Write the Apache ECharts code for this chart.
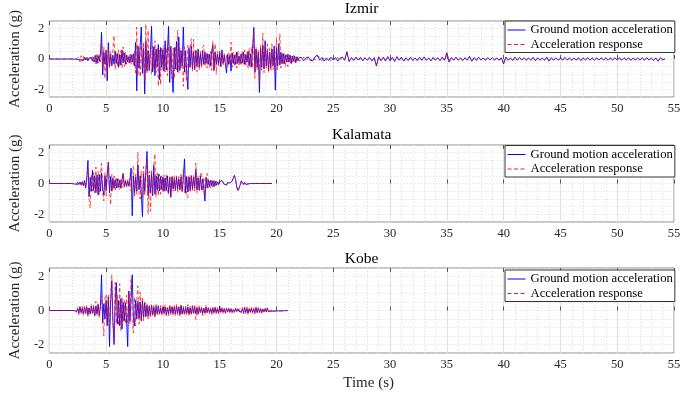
<!DOCTYPE html>
<html>
<head>
<meta charset="utf-8">
<script src="https://cdn.jsdelivr.net/npm/echarts@6/dist/echarts.min.js"></script>
<style>
  html, body { margin: 0; padding: 0; background: #fff; }
  #chart { width: 685px; height: 393px; }
</style>
</head>
<body>
<div id="chart"></div>
<script>
// records start at 2.0 s, strong part sampled every 0.1 s (flat zero before that)
let recordStart = 2.0;
let dt = 0.1;
let tailStart = 22.2;
let tailDt = 0.2;

let titles = ['Izmir', 'Kalamata', 'Kobe'];
let xTicks = [0, 5, 10, 15, 20, 25, 30, 35, 40, 45, 50, 55];
let yTickLabels = [-2, 0, 2];
let legendNames = ['Ground motion acceleration', 'Acceleration response'];

// Izmir, 2.0 .. 22.0 s
let izmirGround = [
    0, 0.01, -0.01, 0.02, -0.02, 0.03, -0.04, 0.06, -0.05, 0.08,
    -0.1, 0.12, -0.06, 0.09, -0.12, 0.05, -0.08, 0.1, -0.14, 0.11,
    -0.18, 0.25, -0.3, 0.22, -0.15, 0.3, 1.75, -1.05, 0.45, -0.35,
    0.55, -1.43, 1.08, -0.5, 0.3, -0.45, 0.25, -0.35, 0.5, -0.3,
    0.35, -0.55, 0.3, -0.4, 0.6, -0.25, 0.4, -0.35, 0.25, -0.2,
    0.15, -0.25, 0.3, -0.2, 0.35, -0.45, 1.1, -2.1, 0.85, -0.6,
    0.9, 2.1, -0.95, 0.7, -2.3, 1.15, -0.8, 0.55, -0.75, 0.5,
    2.15, -0.85, 0.8, -1.1, 0.65, -0.5, 0.95, -1.35, 0.75, -0.55,
    0.6, -0.8, 1.2, -0.7, 0.55, 2.15, -1.55, 0.85, -0.9, -2.2,
    0.75, -0.65, 1.15, -0.85, 1.45, -0.75, 0.55, -0.45, 2.1, -0.85,
    0.55, -0.95, -2.0, 0.75, -0.55, 0.85, -0.65, 0.45, -0.7, 0.55,
    -0.45, 0.65, -0.55, 0.35, -0.45, 0.55, -0.35, 0.45, -0.3, 0.35,
    -0.35, 0.3, -0.45, 0.55, 0.9, -0.75, 0.45, -0.35, 0.3, -0.3,
    0.4, -0.5, 0.6, -0.3, 0.25, -0.3, -0.93, 0.3, -0.35, 0.25,
    -0.8, 0.4, -0.3, 0.25, -0.35, 0.45, -0.3, 0.2, -0.3, 0.35,
    -0.25, 0.45, -0.35, 0.3, -0.2, 0.5, -0.45, 0.35, -0.5, 0.7,
    2.05, -0.85, 0.65, -0.55, 0.45, -2.2, 0.75, -0.55, 0.9, -0.65,
    1.2, -0.45, 0.55, -0.75, 0.45, -0.55, 0.65, -0.45, 0.85, -2.05,
    0.75, -0.45, 1.0, -0.4, 0.45, -0.3, 0.35, -0.3, 0.25, -0.2,
    0.3, -0.2, 0.25, -0.3, 0.2, -0.15, 0.2, -0.25, 0.15, -0.12,
    0.1
];
let izmirResponse = [
    0, 0, 0.01, -0.02, 0.03, -0.05, 0.12, -0.2, 0.22, -0.15,
    0.18, -0.12, 0.08, -0.15, 0.1, -0.06, 0.12, -0.1, 0.15, -0.2,
    0.22, -0.35, 0.3, -0.25, 0.35, -0.2, 1.0, -0.6, 0.8, -1.3,
    0.6, -0.9, 0.7, -0.55, 0.5, -0.4, 0.65, 1.55, -0.7, 0.45,
    -0.5, 0.6, -0.45, 0.55, -0.6, 0.8, -0.5, 0.45, -0.35, 0.3,
    -0.25, 0.3, -0.35, 0.25, -0.4, 0.5, -0.9, 2.1, -1.1, 0.75,
    -1.2, 0.9, -0.7, 1.1, -1.5, 2.3, -0.9, 1.9, -0.8, 0.6,
    -1.0, 0.85, -0.7, 1.2, -0.9, 0.7, -1.8, 0.6, -1.7, 0.8,
    -0.7, 0.9, -0.85, 0.75, -1.1, 1.3, -0.8, 0.6, -1.3, 0.7,
    -1.3, 0.85, -0.7, 1.9, -0.9, 0.75, -0.6, 0.55, -1.8, 0.8,
    -0.7, -1.5, 0.9, -0.6, 0.7, 1.35, -0.8, 1.3, -0.65, 0.6,
    -0.85, 0.55, -0.7, 0.5, -0.6, 0.75, 0.9, -0.5, 0.45, -0.6,
    0.4, -0.55, 0.5, -0.75, 1.2, -0.8, 1.0, -1.0, 0.5, -0.45,
    0.6, -0.5, 0.45, -0.4, 0.35, -0.45, 0.3, -0.55, 0.4, -0.35,
    1.1, -0.55, 0.45, -0.5, 0.4, -0.6, 0.55, -0.4, 0.35, -0.45,
    0.5, -0.35, 0.6, -0.5, 0.45, -0.6, 0.7, -0.55, 0.8, -0.6,
    2.1, -1.27, 0.8, -0.7, 0.6, -1.6, 0.9, -0.75, 1.7, -0.9,
    0.8, -0.6, 1.0, -0.9, 0.7, -0.8, 1.0, -0.7, 0.6, -0.8,
    1.4, -0.7, 0.5, 1.67, -0.6, 0.45, -0.4, 0.35, -0.5, 0.3,
    -0.5, 0.3, -0.25, 0.2, -0.3, 0.25, -0.2, 0.15, -0.2, 0.15,
    -0.12
];
// Izmir tail, 22.2 .. 54.2 s every 0.2 s
let izmirTailGround = [
    0.1, -0.12, 0.06, 0.14, -0.08, -0.12, 0.15, 0.26, -0.08, 0.1,
    -0.14, 0.07, -0.1, 0.12, -0.07, 0.09, -0.14, 0.06, 0.12, -0.08,
    0.48, -0.17, 0.08, -0.1, 0.12, -0.07, 0.1, -0.12, 0.07, -0.08,
    0.1, -0.12, 0.08, -0.46, 0.14, -0.1, 0.12, -0.14, 0.16, -0.12,
    0.1, -0.16, 0.14, -0.08, 0.12, -0.14, 0.07, -0.1, 0.12, -0.08,
    0.07, -0.1, 0.12, -0.07, 0.14, -0.08, 0.06, -0.12, 0.1, -0.07,
    0.08, -0.1, 0.12, -0.08, 0.41, -0.2, 0.1, -0.08, 0.12, -0.07,
    0.06, -0.1, 0.08, -0.07, 0.18, -0.15, 0.1, -0.08, 0.12, -0.06,
    0.07, -0.08, 0.1, -0.07, 0.08, -0.06, 0.07, -0.09, 0.08, -0.33,
    0.12, -0.08, 0.07, -0.1, 0.12, -0.08, 0.1, -0.06, 0.08, -0.07,
    0.06, -0.08, 0.1, -0.12, 0.08, -0.07, 0.06, -0.08, 0.12, -0.14,
    0.08, -0.06, 0.07, -0.08, 0.06, -0.07, 0.1, -0.06, 0.07, -0.08,
    0.06, -0.07, 0.08, -0.1, 0.07, -0.06, 0.08, -0.07, 0.06, -0.08,
    0.07, -0.06, 0.08, -0.07, 0.06, -0.08, 0.07, -0.06, 0.08, -0.07,
    0.06, -0.07, 0.08, -0.06, 0.07, -0.08, 0.06, -0.07, 0.08, -0.06,
    0.07, -0.06, 0.08, -0.07, 0.06, -0.1, 0.07, -0.15, 0.08, -0.05,
    0
];
let izmirTailResponse = [
    -0.12, 0.14, -0.1, 0.08, -0.14, 0.12, -0.07, 0.2, 0.12, -0.1,
    0.12, -0.1, 0.08, -0.12, 0.1, -0.07, 0.12, -0.1, 0.14, -0.07,
    0.35, -0.14, 0.12, -0.08, 0.1, -0.12, 0.08, -0.1, 0.12, -0.07,
    0.08, -0.14, 0.12, -0.4, 0.16, -0.12, 0.14, -0.1, 0.12, -0.14,
    0.12, -0.12, 0.16, -0.1, 0.08, -0.12, 0.1, -0.08, 0.07, -0.1,
    0.1, -0.07, 0.08, -0.1, 0.12, -0.07, 0.08, -0.1, 0.07, -0.08,
    0.07, -0.08, 0.1, -0.12, 0.35, -0.16, 0.12, -0.07, 0.1, -0.08,
    0.08, -0.07, 0.1, -0.12, 0.16, -0.13, 0.08, -0.1, 0.07, -0.08,
    0.06, -0.07, 0.08, -0.06, 0.07, -0.08, 0.06, -0.07, 0.1, -0.28,
    0.1, -0.07, 0.08, -0.08, 0.1, -0.07, 0.08, -0.07, 0.06, -0.08,
    0.07, -0.06, 0.08, -0.1, 0.07, -0.08, 0.07, -0.06, 0.1, -0.12,
    0.07, -0.08, 0.06, -0.07, 0.08, -0.06, 0.08, -0.07, 0.06, -0.07,
    0.07, -0.06, 0.07, -0.08, 0.06, -0.07, 0.07, -0.06, 0.08, -0.07,
    0.06, -0.07, 0.07, -0.06, 0.08, -0.07, 0.06, -0.07, 0.07, -0.06,
    0.07, -0.06, 0.07, -0.07, 0.06, -0.07, 0.07, -0.06, 0.07, -0.07,
    0.06, -0.07, 0.07, -0.06, 0.07, -0.08, 0.06, -0.12, 0.07, -0.04,
    0
];

// Kalamata, 2.0 .. 17.7 s, flat to the end of record
let kalamataEnd = 19.6;
let kalamataGround = [
    0, 0.02, -0.03, 0.04, -0.05, 0.08, -0.06, 0.1, -0.08, 0.12,
    -0.15, 0.2, -0.3, 0.35, 1.5, -0.86, 0.4, -0.5, 0.86, -0.45,
    0.5, -0.6, 0.55, -0.75, 0.6, -0.5, 0.7, -0.4, -0.75, 0.5,
    -0.45, 0.6, 1.4, -0.6, 0.45, -0.5, 0.35, -0.3, 0.25, -0.3,
    0.3, -0.25, 0.2, -0.3, 0.25, 0.65, -0.2, 0.15, -0.2, 0.15,
    -0.15, 0.2, 1.0, -2.1, 0.5, -0.6, 0.4, -0.5, 1.2, -0.4,
    0.5, -0.7, -2.15, 0.6, -0.5, 0.7, 2.08, -0.8, 0.55, -0.6,
    0.6, -0.8, 1.18, -0.7, 0.5, -0.45, 0.6, -0.5, 0.45, -0.4,
    0.4, -0.5, 0.35, -0.45, 0.5, -0.6, 0.4, -0.9, 0.45, -0.35,
    0.3, -0.45, 0.4, -0.35, 0.3, -0.4, 0.45, -0.5, 0.35, 1.6,
    -0.6, 0.45, -0.55, 0.4, -0.45, 0.5, -0.35, 0.4, -0.3, 0.9,
    -0.4, 0.35, -0.45, 0.5, -0.4, 0.3, -0.35, -1.14, 0.4, -0.3,
    0.25, -0.2, 0.2, -0.15, 0.18, -0.2, 0.15, -0.12, 0.1, -0.08,
    0.1, 0.15, 0.2, 0.12, -0.05, -0.15, -0.1, 0.05, 0.08, 0.03,
    -0.05, 0.15, 0.35, 0.5, 0.25, -0.2, -0.45, -0.3, -0.1, 0.15,
    0.1, -0.05, 0.08, -0.06, 0.04, -0.03, 0.02, 0
];
let kalamataResponse = [
    0, 0.01, -0.02, 0.05, -0.04, 0.06, -0.1, 0.08, -0.12, 0.1,
    -0.2, 0.15, -0.3, 0.45, 0.9, -1.0, -1.6, 0.6, -0.5, 0.7,
    -0.6, 1.07, -0.5, 0.8, -0.7, 0.6, 1.3, -0.6, -1.14, 0.7,
    -0.8, 0.5, 1.35, -0.5, -1.4, 0.6, -0.45, 0.5, -0.4, 0.35,
    -0.35, 0.3, -0.4, 0.35, -0.3, 0.6, -0.25, 0.3, -0.2, 0.25,
    -0.2, 0.3, -0.5, 0.8, 1.1, -0.9, 0.6, -0.7, 2.05, -0.8,
    -1.0, 0.8, -0.9, 1.1, -0.8, 0.9, 1.5, -2.0, 0.8, -1.8,
    0.9, -0.7, 1.2, 1.94, -0.9, 0.7, -0.8, 0.6, -0.7, 0.5,
    -0.6, 0.55, -0.5, 0.6, -0.45, -0.75, 0.5, -0.6, 0.45, -0.5,
    0.55, -0.45, 0.5, -0.6, 0.45, -0.5, 0.6, -0.55, 0.9, -0.6,
    0.5, -0.7, -0.95, 0.55, -0.5, 0.6, -0.45, 0.55, -0.5, 1.33,
    -0.6, 0.5, -0.45, 0.6, 0.75, -0.5, 0.4, -0.8, 0.45, 0.65,
    -0.3, 0.25, -0.3, 0.2, -0.25, 0.2, -0.15, 0.18, -0.12, 0.1,
    0.08, 0.18, 0.22, 0.1, -0.08, -0.18, -0.12, 0.06, 0.1, 0.02,
    -0.08, 0.2, 0.4, 0.55, 0.2, -0.25, -0.5, -0.35, -0.12, 0.18,
    0.12, -0.08, 0.1, -0.05, 0.05, -0.03, 0.02, 0
];

// Kobe, 2.0 .. 21.0 s
let kobeGround = [
    0, 0.01, -0.01, 0.03, -0.05, 0.1, -0.15, 0.2, -0.12, 0.15,
    -0.2, 0.18, -0.15, 0.2, -0.25, 0.15, -0.2, 0.25, -0.15, 0.2,
    -0.3, 0.25, -0.2, 0.35, -0.3, 0.25, 2.1, -0.73, 0.4, -0.5,
    0.6, -0.9, 0.8, -2.12, 0.5, 1.74, -0.6, -2.0, 0.5, 1.64,
    -0.8, 0.6, -0.9, 0.7, -1.1, 0.5, -0.6, 0.45, -0.5, -2.12,
    1.15, -0.6, 0.7, 2.1, -0.5, -0.9, 0.6, -0.5, 0.55, -0.45,
    0.5, -0.6, 0.55, -0.4, 0.45, -0.35, 0.3, -0.35, 0.25, -0.3,
    0.3, -0.25, 0.2, -0.3, 0.25, -0.2, 0.25, -0.2, 0.15, -0.2,
    0.2, -0.15, 0.2, -0.25, 0.15, -0.2, 0.25, -0.15, 0.2, -0.18,
    0.22, -0.2, 0.25, -0.15, 0.2, -0.25, 0.3, -0.2, 0.15, -0.2,
    0.18, -0.15, 0.2, -0.22, 0.15, -0.2, 0.25, -0.15, 0.2, -0.18,
    0.15, -0.2, 0.18, -0.12, 0.15, -0.18, 0.12, -0.15, 0.2, -0.12,
    0.15, -0.12, 0.1, -0.15, 0.12, -0.1, 0.15, -0.12, 0.1, -0.15,
    0.25, -0.1, 0.12, -0.1, 0.08, -0.12, 0.1, -0.08, 0.12, -0.1,
    0.08, -0.1, 0.06, -0.08, 0.1, -0.06, 0.08, -0.05, 0.06, -0.08,
    0.1, -0.12, 0.15, -0.1, 0.12, -0.15, 0.1, -0.08, 0.12, -0.1,
    0.08, -0.12, 0.15, -0.1, 0.12, -0.08, 0.1, -0.12, 0.08, -0.06,
    0.1, -0.08, 0.12, -0.06, 0.05, -0.04, 0.06, -0.03, 0.04, -0.03,
    0.03, -0.02, 0.03, -0.02, 0.02, -0.02, 0.01, -0.01, 0.01, -0.01,
    0
];
let kobeResponse = [
    0, 0.02, -0.03, 0.08, -0.1, 0.2, -0.25, 0.3, -0.2, 0.25,
    -0.3, 0.25, -0.2, 0.3, -0.35, 0.2, -0.25, 0.35, -0.2, 0.3,
    -0.35, 0.55, -0.3, 0.4, -0.45, 0.3, 0.9, -0.6, -1.5, 0.8,
    0.95, -0.7, 0.9, -1.0, 0.8, 2.1, -0.9, -1.7, 1.65, -0.8,
    0.9, -0.9, 1.58, -1.2, 0.8, -0.7, 0.6, -0.8, 0.9, -0.7,
    1.0, -0.8, 1.9, -0.6, -1.33, 0.8, -0.9, 0.7, 1.45, -0.8,
    1.1, -0.7, 0.8, -0.6, 0.5, -0.45, 0.4, -0.5, 0.35, -0.4,
    0.4, -0.35, 0.3, -0.4, 0.35, -0.3, 0.3, -0.25, 0.3, -0.3,
    0.3, -0.25, 0.35, -0.3, 0.25, -0.3, 0.35, -0.25, 0.3, -0.28,
    0.3, -0.35, 0.4, -0.25, 0.3, -0.35, 0.3, -0.3, 0.25, -0.3,
    0.25, -0.3, 0.35, -0.3, 0.25, -0.28, 0.3, -0.25, 0.3, -0.53,
    0.3, -0.25, 0.28, -0.2, 0.25, -0.3, 0.22, -0.25, 0.3, -0.2,
    0.22, -0.2, 0.18, -0.25, 0.2, -0.18, 0.22, -0.2, 0.18, -0.22,
    0.2, -0.15, 0.18, -0.2, 0.15, -0.18, 0.15, -0.12, 0.18, -0.15,
    0.12, -0.15, 0.1, -0.12, 0.15, -0.1, 0.12, -0.1, 0.12, -0.15,
    0.18, -0.2, 0.22, -0.18, 0.2, -0.25, 0.18, -0.15, 0.2, -0.18,
    0.15, -0.2, 0.22, -0.15, 0.18, -0.15, 0.15, -0.2, 0.12, -0.1,
    0.15, -0.12, 0.18, -0.1, 0.08, -0.06, 0.08, -0.05, 0.06, -0.04,
    0.04, -0.03, 0.04, -0.03, 0.03, -0.02, 0.02, -0.01, 0.01, -0.01,
    0
];


// turn a sampled segment into [t, a] pairs
let toPoints = (t0, step, values) => values.map((v, i) => [+(t0 + i * step).toFixed(2), v]);

let izmirG = [[0, 0]].concat(toPoints(recordStart, dt, izmirGround), toPoints(tailStart, tailDt, izmirTailGround));
let izmirR = [[0, 0]].concat(toPoints(recordStart, dt, izmirResponse), toPoints(tailStart, tailDt, izmirTailResponse));
let kalamataG = [[0, 0]].concat(toPoints(recordStart, dt, kalamataGround), [[kalamataEnd, 0]]);
let kalamataR = [[0, 0]].concat(toPoints(recordStart, dt, kalamataResponse), [[kalamataEnd, 0]]);
let kobeG = [[0, 0]].concat(toPoints(recordStart, dt, kobeGround));
let kobeR = [[0, 0]].concat(toPoints(recordStart, dt, kobeResponse));

let records = [[izmirG, izmirR], [kalamataG, kalamataR], [kobeG, kobeR]];

let FONT = '"Liberation Serif", "Times New Roman", serif';
let TEXT = '#262626';
let BLUE = '#0000ff';
let RED = '#ff0000';
let DASH = [4, 2.5];
let grids = [
    { left: 43, top: 17, width: 631, height: 80 },
    { left: 43, top: 145, width: 631, height: 77 },
    { left: 43, top: 268, width: 631, height: 85 }
];
let legendTops = [21, 145.5, 270];
let titleGaps = [4, 2, 1.5];

let option = {
    animation: false,
    backgroundColor: '#fff',
    grid: grids.map(g => Object.assign({
        show: true,
        backgroundColor: '#fff',
        borderColor: '#8c8c8c',
        borderWidth: 1
    }, g)),
    legend: legendTops.map(top => ({
        orient: 'vertical',
        left: 505,
        top: top,
        data: [
            { name: legendNames[0], lineStyle: { color: BLUE, width: 1, type: 'solid' } },
            { name: legendNames[1], lineStyle: { color: RED, width: 1, type: DASH, opacity: 0.9 } }
        ],
        selectedMode: false,
        itemWidth: 18,
        itemHeight: 10,
        itemGap: 0.5,
        padding: [2, 2, 1, 2],
        borderColor: '#333',
        borderWidth: 1,
        borderRadius: 0,
        backgroundColor: '#fff',
        itemStyle: { opacity: 0 },
        textStyle: { fontFamily: FONT, fontSize: 12.7, color: '#000', lineHeight: 14 }
    })),
    xAxis: [],
    yAxis: [],
    series: []
};

grids.forEach((g, i) => {
    // bottom axis with labels and grid
    option.xAxis.push({
        type: 'value',
        gridIndex: i,
        min: xTicks[0],
        max: xTicks[xTicks.length - 1],
        interval: 5,
        name: i === 2 ? 'Time (s)' : '',
        nameLocation: 'middle',
        nameGap: 23,
        nameTextStyle: { fontFamily: FONT, fontSize: 15, color: TEXT, padding: [0, 0, 0, 14] },
        axisLine: { show: false },
        axisTick: { show: true, inside: true, length: 4, lineStyle: { color: '#555' } },
        axisLabel: { fontFamily: FONT, fontSize: 12.5, color: TEXT, margin: 5 },
        splitLine: { show: true, lineStyle: { color: '#e2e2e2', width: 1 } },
        minorTick: { show: false, splitNumber: 5 },
        minorSplitLine: { show: true, lineStyle: { color: '#dcdcdc', type: [1, 2], width: 1 } }
    });
    // top axis: ticks and the subplot title
    option.xAxis.push({
        type: 'value',
        gridIndex: i,
        position: 'top',
        min: xTicks[0],
        max: xTicks[xTicks.length - 1],
        interval: 5,
        name: titles[i],
        nameLocation: 'middle',
        nameGap: titleGaps[i],
        nameTextStyle: { fontFamily: FONT, fontSize: 15.5, color: '#000', verticalAlign: 'bottom' },
        axisLine: { show: false },
        axisTick: { show: true, inside: true, length: 4, lineStyle: { color: '#555' } },
        axisLabel: { show: false },
        splitLine: { show: false }
    });
    option.yAxis.push({
        type: 'value',
        gridIndex: i,
        min: -2.5,
        max: 2.5,
        interval: 0.5,
        name: 'Acceleration (g)',
        nameLocation: 'middle',
        nameGap: 24,
        nameTextStyle: { fontFamily: FONT, fontSize: 15, color: TEXT },
        axisLine: { show: false },
        axisTick: { show: false },
        axisLabel: {
            fontFamily: FONT, fontSize: 12.5, color: TEXT, margin: 5,
            formatter: v => yTickLabels.indexOf(v) >= 0 ? String(v) : ''
        },
        splitLine: { show: true, lineStyle: { color: '#dcdcdc', type: [1, 2], width: 1 } }
    });

    let [ground, response] = records[i];
    option.series.push({
        name: legendNames[0],
        type: 'line',
        xAxisIndex: i * 2,
        yAxisIndex: i,
        data: ground,
        showSymbol: false,
        symbol: 'none',
        color: BLUE,
        lineStyle: { color: BLUE, width: 0.9 },
        z: 2
    });
    option.series.push({
        name: legendNames[1],
        type: 'line',
        xAxisIndex: i * 2,
        yAxisIndex: i,
        data: response,
        showSymbol: false,
        symbol: 'none',
        color: RED,
        lineStyle: { color: RED, width: 0.8, type: DASH, opacity: 0.85 },
        z: 3
    });
});

let myChart = echarts.init(document.getElementById('chart'), null, { renderer: 'canvas' });
myChart.setOption(option);
</script>
</body>
</html>
